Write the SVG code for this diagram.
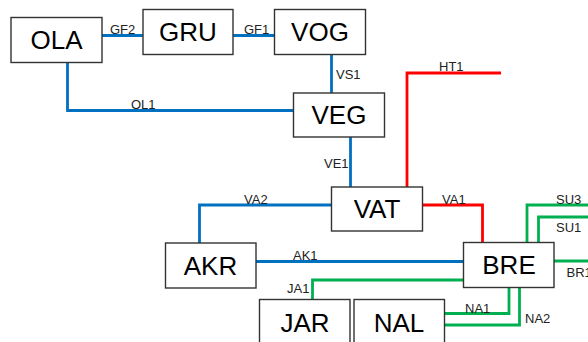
<svg xmlns="http://www.w3.org/2000/svg" width="588" height="342" viewBox="0 0 588 342">
<style>
.box{fill:#fff;stroke:#333;stroke-width:1.4}
.nt{font-family:"Liberation Sans",Arial,sans-serif;font-size:26px;fill:#000;text-anchor:middle}
.lb{font-family:"Liberation Sans",Arial,sans-serif;font-size:13px;fill:#222}
.c{fill:none;stroke-width:2.8;stroke-linejoin:miter}
.b{stroke:#0070C0}.r{stroke:#FF0000}.g{stroke:#00B050}
</style>
<rect width="588" height="342" fill="#fff"/>
<g id="connectors">
<polyline class="c b" points="102,35.5 143,35.5"/>
<polyline class="c b" points="233,35.5 274,35.5"/>
<polyline class="c b" points="67.5,62 67.5,110.5 293,110.5"/>
<polyline class="c b" points="331.5,54 331.5,93"/>
<polyline class="c b" points="350.5,137 350.5,187"/>
<polyline class="c r" points="407,187 407,73 501,73"/>
<polyline class="c b" points="331,205 199.5,205 199.5,243"/>
<polyline class="c b" points="256,261.5 463,261.5"/>
<polyline class="c r" points="422,205 482.5,205 482.5,242"/>
<polyline class="c g" points="463,280 312.5,280 312.5,299.5"/>
<polyline class="c g" points="527,242 527,205 588,205"/>
<polyline class="c g" points="538.5,242 538.5,217 588,217"/>
<polyline class="c g" points="554,261 588,261"/>
<polyline class="c g" points="509,288 509,313.5 445,313.5"/>
<polyline class="c g" points="519.5,288 519.5,325 445,325"/>
<text class="lb" x="110" y="34">GF2</text>
<text class="lb" x="244" y="34">GF1</text>
<text class="lb" x="131" y="109">OL1</text>
<text class="lb" x="336" y="79">VS1</text>
<text class="lb" x="439" y="71">HT1</text>
<text class="lb" x="324" y="168">VE1</text>
<text class="lb" x="244" y="203.5">VA2</text>
<text class="lb" x="293" y="260">AK1</text>
<text class="lb" x="287" y="293">JA1</text>
<text class="lb" x="442" y="203.5">VA1</text>
<text class="lb" x="556" y="203.5">SU3</text>
<text class="lb" x="556" y="231.5">SU1</text>
<text class="lb" x="566.5" y="276.5">BR1</text>
<text class="lb" x="465" y="312.5">NA1</text>
<text class="lb" x="525" y="322.5">NA2</text>
</g>
<g id="OLA"><rect class="box" x="11" y="17.5" width="91" height="45"/><text class="nt" x="56.5" y="48.5">OLA</text></g>
<g id="GRU"><rect class="box" x="143" y="9.5" width="90" height="45"/><text class="nt" x="188" y="41">GRU</text></g>
<g id="VOG"><rect class="box" x="274.5" y="9.5" width="91" height="45"/><text class="nt" x="320" y="41">VOG</text></g>
<g id="VEG"><rect class="box" x="293.5" y="93" width="91" height="44"/><text class="nt" x="339" y="124">VEG</text></g>
<g id="VAT"><rect class="box" x="331.5" y="187" width="91" height="44"/><text class="nt" x="377" y="217.5">VAT</text></g>
<g id="AKR"><rect class="box" x="165.5" y="243" width="90.5" height="45"/><text class="nt" x="210.5" y="274.5">AKR</text></g>
<g id="BRE"><rect class="box" x="463.5" y="242.5" width="90.5" height="45"/><text class="nt" x="509" y="274">BRE</text></g>
<g id="JAR"><rect class="box" x="259.5" y="299.5" width="90.5" height="48"/><text class="nt" x="305" y="332">JAR</text></g>
<g id="NAL"><rect class="box" x="354" y="299.5" width="90.5" height="48"/><text class="nt" x="399" y="332">NAL</text></g>
</svg>
